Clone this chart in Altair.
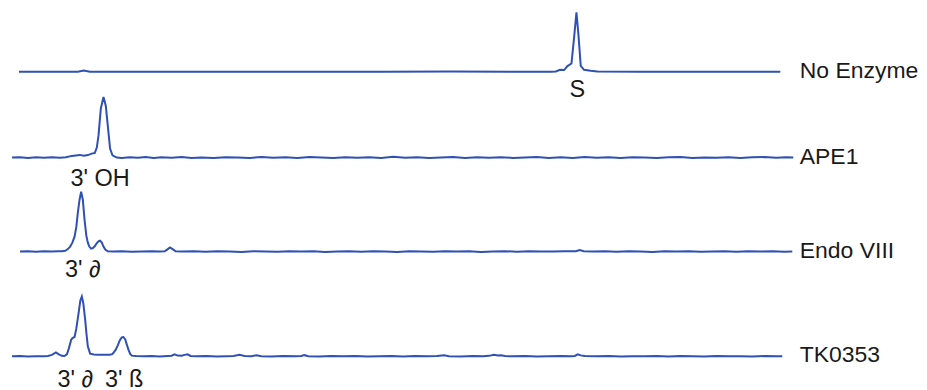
import altair as alt
import pandas as pd

# ---- data ----
samples = ["No Enzyme", "APE1", "Endo VIII", "TK0353"]
peak_labels = ["S", "3' OH", "3' ∂", "3' ∂", "3' ß"]
peak_label_sample = [0, 1, 2, 3, 3]
peak_label_pos = [576.5, 98.3, 81, 73.5, 122.5]

no_enzyme_x = [17, 60, 76, 82, 88, 130, 250, 380, 450, 520,
               550, 555, 559.3, 563.3, 566.7, 570.7, 573.3, 575.7, 577.7, 580,
               583.3, 590, 596.7, 640, 720, 780]
no_enzyme_signal = [0, 0, 0, 1.2, 0, 0, 0, 0, 0.3, 0,
                    0, 0.3, 2, 1.7, 5.7, 8.3, 34, 59.5, 37, 6,
                    2, 1, 0.3, 0, 0, 0]

ape1_x = [10, 18, 26, 34, 42, 50, 58, 64, 70, 74,
          78, 82, 86, 90, 93, 95, 96.7, 99, 101.7, 104,
          106, 108.3, 110.7, 115, 120, 128, 136, 144, 152, 160,
          170, 180, 190, 200, 212, 224, 236, 248, 260, 272,
          284, 296, 308, 320, 332, 344, 356, 368, 380, 392,
          404, 416, 428, 440, 452, 464, 476, 488, 500, 512,
          524, 536, 548, 560, 572, 584, 596, 608, 620, 632,
          644, 656, 668, 680, 692, 704, 716, 728, 740, 752,
          764, 776, 786, 793]
ape1_signal = [0, 0.4, -0.3, 0.3, -0.2, 0.3, -0.2, 0.4, 1.7, 2.2,
               2.7, 1.8, 2.5, 4, 4.7, 10, 22, 49, 60.7, 52,
               32, 9, 2.3, 0, -0.3, 0.4, -0.2, 0.5, -0.4, 0.3,
               -0.2, 0.6, -0.3, 0.2, -0.5, 0.4, 0.1, -0.3, 0.6, -0.2,
               0.3, -0.4, 0.5, 0.1, -0.3, 0.4, -0.2, 0.3, -0.4, 0.8,
               -0.2, 0.3, -0.3, 0.2, 0.5, -0.4, 0.3, -0.2, 0.4, -0.3,
               0.2, 0.5, -0.3, 0.3, -0.4, 0.6, -0.2, 0.3, -0.3, 0.4,
               0.1, -0.4, 0.3, 0.5, -0.3, 0.2, -0.2, 0.4, -0.3, 0.3,
               0.5, -0.2, 0.3, 0]

endo8_x = [18, 26, 34, 42, 50, 56, 60, 63.3, 66, 68.3,
           70.5, 72.7, 74.5, 76, 77.7, 79.3, 81, 82.7, 84.5, 86,
           87.5, 89.3, 91, 92.7, 95, 97, 98.3, 100, 101.7, 103.5,
           106, 112, 120, 130, 140, 150, 158, 163, 165.5, 168.3,
           171, 174, 180, 192, 204, 216, 228, 240, 252, 264,
           276, 288, 300, 312, 324, 336, 348, 360, 372, 384,
           396, 408, 420, 432, 444, 456, 468, 480, 492, 504,
           516, 528, 540, 552, 564, 575, 579, 583, 592, 604,
           616, 628, 640, 652, 664, 676, 688, 700, 712, 724,
           736, 748, 760, 772, 784, 792]
endo8_signal = [0, 0.3, -0.2, 0.3, 0, 0.4, 0.3, 0.8, 2.5, 5,
                9, 15, 25, 39, 52, 60, 52, 32, 16, 9,
                5, 3, 3.5, 5, 8.5, 10.5, 11, 9, 5, 2,
                0.3, 0, 0.3, -0.2, 0.2, 0.4, 0, 0.3, 2, 4.2,
                2.5, 0.3, 0, 0.3, -0.2, 0.4, 0, -0.3, 0.3, 0.1,
                -0.2, 0.4, 0, 0.3, -0.3, 0.2, 0.4, -0.2, 0.3, 0,
                -0.3, 0.3, 0.2, -0.2, 0.4, 0, 0.3, -0.3, 0.2, 0.4,
                -0.2, 0.3, 0, 0.2, 0.3, 0.3, 1.5, 0.4, 0, 0.3,
                -0.2, 0.3, 0.1, -0.3, 0.3, 0, 0.4, -0.2, 0.2, 0.3,
                -0.2, 0.3, 0, 0.3, -0.2, 0]

tk0353_x = [10, 18, 26, 34, 42, 46, 50, 54, 57, 60,
            62.5, 65, 67, 69.3, 71, 72.7, 74.5, 76.7, 78.5, 80,
            81.5, 83.3, 84.7, 86, 88.3, 92, 96.7, 103, 108, 110.5,
            112, 114, 116, 118, 120, 121.7, 123.5, 125, 126.7, 128.5,
            130, 134, 142, 150, 158, 166, 170, 173, 176, 180,
            183, 186, 189, 195, 205, 215, 225, 232, 238, 243,
            250, 255, 260, 270, 282, 294, 300, 303, 307, 318,
            330, 342, 354, 366, 378, 390, 402, 414, 426, 436,
            443, 448, 460, 472, 482, 488, 493, 497, 500, 504,
            512, 524, 536, 548, 560, 570, 574, 577, 580, 584,
            596, 608, 620, 632, 644, 656, 668, 680, 692, 704,
            716, 728, 740, 752, 764, 776, 782]
tk0353_signal = [0, 0.3, -0.2, 0.2, 0, 0.4, 1.5, 4, 2, 0.5,
                 0.3, 2, 8, 16.7, 18.5, 19.4, 28, 43, 56, 60,
                 53, 37, 22, 10, 2.7, 1.8, 1.7, 1.5, 1.7, 2.2,
                 4, 6.7, 11, 16, 19, 19.4, 17, 12, 6.7, 2.5,
                 0.7, 0.3, 0, 0.3, -0.2, 0.3, 0.6, 2, 0.8, 0.6,
                 1.5, 2, 0.4, 0, 0.3, -0.2, 0.2, 0.4, 1.5, 0.3,
                 0.2, 1.2, 0.2, -0.2, 0.3, 0, 0.3, 1.2, 0.2, -0.2,
                 0.3, 0, 0.3, -0.2, 0.2, 0.4, -0.2, 0.3, 0, 0.4,
                 1, 0.2, -0.2, 0.3, 0.2, 0.5, 1.5, 0.8, 1.2, 0.3,
                 0, 0.3, -0.2, 0.2, 0.3, 0.1, 0.4, 2, 1, 0.3,
                 0, 0.3, -0.2, 0.2, 0, 0.3, -0.2, 0.3, 0.1, -0.2,
                 0.3, 0, 0.2, -0.2, 0.3, 0.1, 0]

traces = [
    (no_enzyme_x, no_enzyme_signal),
    (ape1_x, ape1_signal),
    (endo8_x, endo8_signal),
    (tk0353_x, tk0353_signal),
]

# ---- layout / style ----
LINE = "#2f50b4"
TEXT = "#1a1a1a"
FONT = "Liberation Sans"
W = 911
panel_heights = [84, 88, 92, 105]
panel_below = [20.5, 22.5, 20.3, 20.3]
label_drop = [18.2, 21.5, 18.3, 23.3]

panels = []
for i, name in enumerate(samples):
    xs, ys = traces[i]
    df = pd.DataFrame({"scan": xs, "signal": ys})
    H = panel_heights[i]
    b = panel_below[i]
    xsc = alt.Scale(domain=[8, 8 + W], nice=False, zero=False)
    ysc = alt.Scale(domain=[-b, H - b], nice=False, zero=False)

    line = alt.Chart(df).mark_line(color=LINE, strokeWidth=2).encode(
        x=alt.X("scan:Q", scale=xsc, axis=None),
        y=alt.Y("signal:Q", scale=ysc, axis=None),
    )

    name_df = pd.DataFrame({"sample": [name]})
    name_text = alt.Chart(name_df).mark_text(
        align="left", baseline="middle", fontSize=23, font=FONT, color=TEXT, dy=-1
    ).encode(
        x=alt.XDatum(799.5, scale=xsc, axis=None),
        y=alt.YDatum(0, scale=ysc, axis=None),
        text="sample:N",
    )

    idx = [k for k, s in enumerate(peak_label_sample) if s == i]
    lab_df = pd.DataFrame({
        "label": [peak_labels[k] for k in idx],
        "scan": [peak_label_pos[k] for k in idx],
    })
    lab_text = alt.Chart(lab_df).mark_text(
        align="center", baseline="middle", fontSize=23.5, font=FONT, color=TEXT
    ).encode(
        x=alt.X("scan:Q", scale=xsc, axis=None),
        y=alt.YDatum(-label_drop[i], scale=ysc, axis=None),
        text="label:N",
    )

    panels.append(alt.layer(line, name_text, lab_text).properties(width=W, height=H))

chart = alt.vconcat(*panels, spacing=0, bounds="flush").properties(
    padding=0
).configure_view(stroke=None)

chart.save("out.html", embed_options={"renderer": "svg", "actions": False})
